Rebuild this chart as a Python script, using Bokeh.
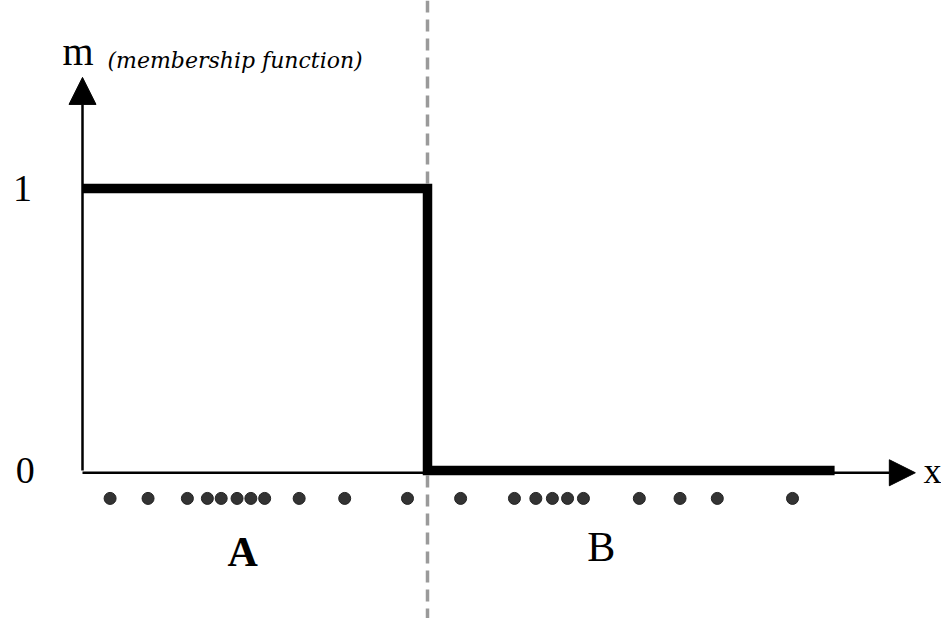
from bokeh.plotting import figure
from bokeh.models import Range1d, Span, Arrow, NormalHead
from bokeh.core.properties import value
from bokeh.embed import file_html
from bokeh.resources import INLINE

# ---- data (x in feature units, y = membership) ----
threshold = 5.0
x_end_line = 10.9
step_x = [0.0, threshold, threshold, x_end_line]
step_y = [1.0, 1.0, 0.0, 0.0]

dots_a = [0.40, 0.95, 1.52, 1.81, 2.01, 2.24, 2.44, 2.64, 3.14, 3.80, 4.71]
dots_b = [5.48, 6.26, 6.57, 6.81, 7.03, 7.26, 8.07, 8.66, 9.20, 10.29]
dot_y = -0.099

y_ticks = [0, 1]
y_tick_labels = ["0", "1"]
x_axis_tip = 12.07
y_axis_tip = 1.394
class_labels = ["A", "B"]
class_x = [2.32, 7.52]
class_y = [-0.29, -0.273]

W, H = 941, 618
p = figure(width=W, height=H, output_backend="svg", toolbar_location=None,
           x_range=Range1d(-82 / 69, (W - 82) / 69),
           y_range=Range1d((470 - H) / 282, 470 / 282),
           min_border=0, background_fill_color="white", border_fill_color="white")
p.axis.visible = False
p.grid.visible = False
p.outline_line_color = None

# dashed separator
p.add_layout(Span(location=threshold, dimension="height", line_color="#9a9a9a",
                  line_width=3.5, line_dash="12 7", level="underlay"))

# axes with arrows
p.add_layout(Arrow(end=NormalHead(size=27, fill_color="black", line_color="black"),
                   x_start=0, y_start=0, x_end=0, y_end=y_axis_tip,
                   line_width=2.5, line_color="black"))
p.add_layout(Arrow(end=NormalHead(size=26, fill_color="black", line_color="black"),
                   x_start=0, y_start=-0.008, x_end=x_axis_tip, y_end=-0.008,
                   line_width=2.5, line_color="black"))

# crisp membership function
p.line(step_x, step_y, line_width=9.5, line_color="black", line_join="miter")

# sample points
all_dots = dots_a + dots_b
p.scatter(all_dots, [dot_y] * len(all_dots), size=12, fill_color="#333333",
          line_color="#222222", line_width=1)

serif = value("Liberation Serif")
# tick labels
p.text(x=[-0.83, -0.87], y=y_ticks, text=y_tick_labels, text_font=serif,
       text_font_size="38px", text_align="center", text_baseline="middle", text_color="black")
# axis names
p.text(x=[-0.29], y=[1.485], text=["m"], text_font=serif, text_font_size="40px",
       text_align="left", text_baseline="alphabetic", text_color="black")
p.text(x=[0.362], y=[1.454], text=["(membership function)"], text_font=value("DejaVu Serif"),
       text_font_size="22px", text_font_style="italic", text_align="left",
       text_baseline="middle", text_color="black")
p.text(x=[12.19], y=[0.0], text=["x"], text_font=serif, text_font_size="36px",
       text_align="left", text_baseline="middle", text_color="black")
# class labels
p.text(x=[class_x[0]], y=[class_y[0]], text=[class_labels[0]], text_font=serif,
       text_font_size="42px", text_font_style="bold", text_align="center",
       text_baseline="middle", text_color="black")
p.text(x=[class_x[1]], y=[class_y[1]], text=[class_labels[1]], text_font=serif,
       text_font_size="42px", text_align="center", text_baseline="middle", text_color="black")

open("out.html", "w").write(file_html(p, INLINE))
